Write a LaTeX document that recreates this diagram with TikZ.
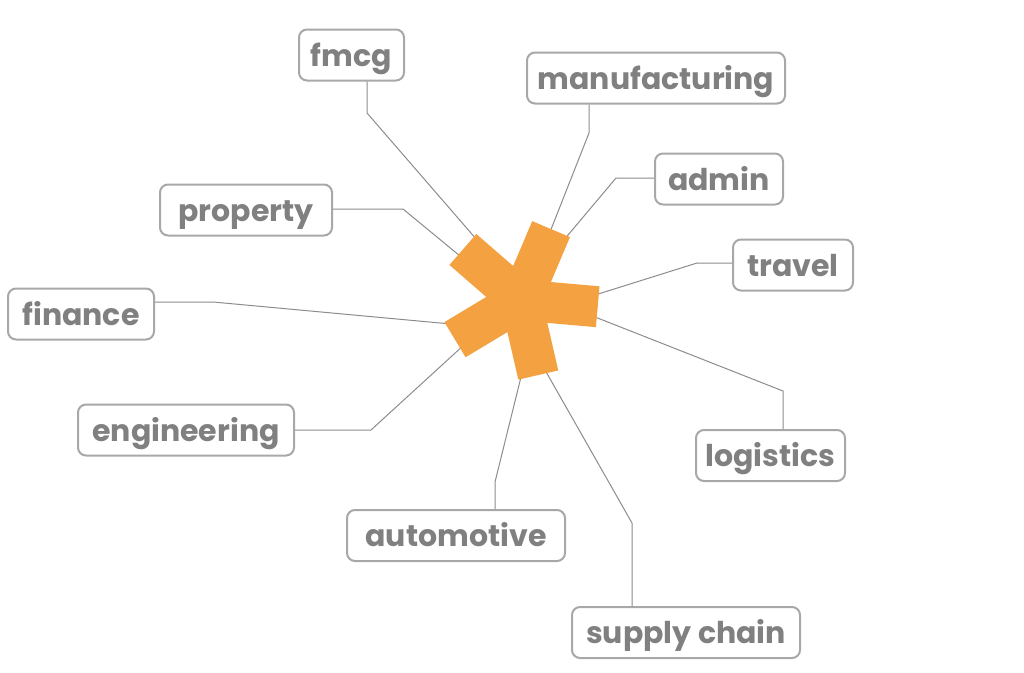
\documentclass[tikz,border=0pt]{standalone}
\usepackage{fontspec}
\setmainfont{Poppins}
\usetikzlibrary{positioning}

\definecolor{starorange}{RGB}{243,161,65}
\definecolor{labelgray}{RGB}{128,128,128}
\definecolor{boxgray}{RGB}{168,168,168}
\definecolor{linkgray}{RGB}{140,140,140}

\begin{document}
\begin{tikzpicture}[x=1pt,y=-1pt,
  tag/.style={draw=boxgray,line width=2pt,rounded corners=8pt,fill=white,
    text=labelgray,font=\fontsize{30}{31}\selectfont\bfseries,
    minimum height=51pt,text height=22pt,text depth=0pt,inner xsep=6pt},
  link/.style={draw=linkgray,line width=1pt},
  arm/.style={fill=starorange}]
\useasboundingbox (0,0) rectangle (1024,672);

\node[tag,minimum width=105pt] (fmcg) at (351.5,55) {fmcg};
\node[tag,minimum width=258pt] (manufacturing) at (656,78) {manufacturing};
\node[tag,minimum width=128pt] (admin) at (719,179) {admin};
\node[tag,minimum width=172pt] (property) at (246,210) {property};
\node[tag,minimum width=120pt] (travel) at (793,265) {travel};
\node[tag,minimum width=146pt] (finance) at (81,314) {finance};
\node[tag,minimum width=216pt] (engineering) at (186,430) {engineering};
\node[tag,minimum width=149pt] (logistics) at (770.5,455.5) {logistics};
\node[tag,minimum width=218pt] (automotive) at (456,535.5) {automotive};
\node[tag,minimum width=228pt] (supply) at (686,632.5) {supply chain};

% bends and ends on the star
\coordinate (hub) at (521,300);
\coordinate (fmcg-bend) at (367,113);      \coordinate (fmcg-end) at (477,240);
\coordinate (manuf-bend) at (589,133);     \coordinate (manuf-end) at (550,232);
\coordinate (admin-bend) at (616,178);     \coordinate (admin-end) at (563,241);
\coordinate (property-bend) at (403,209);  \coordinate (property-end) at (460,256);
\coordinate (travel-bend) at (697,263);    \coordinate (travel-end) at (595,295);
\coordinate (finance-bend) at (213,302);   \coordinate (finance-end) at (451,324);
\coordinate (eng-bend) at (371,430);       \coordinate (eng-end) at (465,344);
\coordinate (logistics-bend) at (783,391); \coordinate (logistics-end) at (595,317);
\coordinate (auto-bend) at (495,482);      \coordinate (auto-end) at (521,377);
\coordinate (supply-bend) at (632,523);    \coordinate (supply-end) at (545,370);

\draw[link] (fmcg.south -| fmcg-bend) -- (fmcg-bend) -- (fmcg-end);
\draw[link] (manufacturing.south -| manuf-bend) -- (manuf-bend) -- (manuf-end);
\draw[link] (admin.west |- admin-bend) -- (admin-bend) -- (admin-end);
\draw[link] (property.east |- property-bend) -- (property-bend) -- (property-end);
\draw[link] (travel.west |- travel-bend) -- (travel-bend) -- (travel-end);
\draw[link] (finance.east |- finance-bend) -- (finance-bend) -- (finance-end);
\draw[link] (engineering.east |- eng-bend) -- (eng-bend) -- (eng-end);
\draw[link] (logistics.north -| logistics-bend) -- (logistics-bend) -- (logistics-end);
\draw[link] (automotive.north -| auto-bend) -- (auto-bend) -- (auto-end);
\draw[link] (supply.north -| supply-bend) -- (supply-bend) -- (supply-end);

% the star
\fill[arm,shift={(hub)},rotate=-5] (0,-20.5) rectangle (77,20.5);
\fill[arm,shift={(hub)},rotate=67] (0,-20.5) rectangle (77,20.5);
\fill[arm,shift={(hub)},rotate=139] (0,-20.5) rectangle (77,20.5);
\fill[arm,shift={(hub)},rotate=211] (0,-20.5) rectangle (77,20.5);
\fill[arm,shift={(hub)},rotate=283] (0,-20.5) rectangle (77,20.5);
\end{tikzpicture}
\end{document}
